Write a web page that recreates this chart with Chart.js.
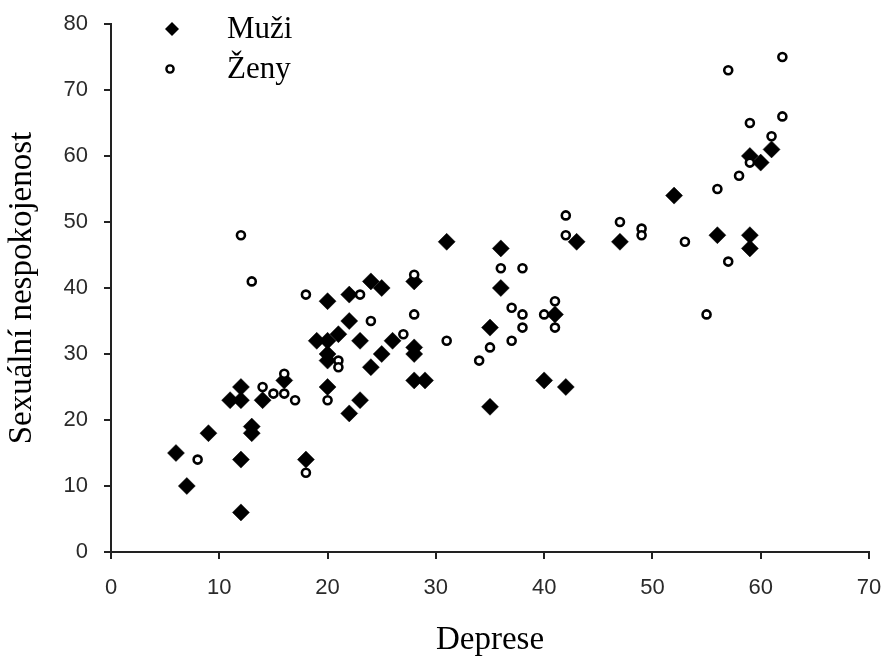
<!DOCTYPE html>
<html>
<head>
<meta charset="utf-8">
<script src="https://cdn.jsdelivr.net/npm/chart.js@4/dist/chart.umd.min.js"></script>
<style>
  html, body { margin: 0; padding: 0; background: #ffffff; }
  #wrap { width: 887px; height: 663px; position: relative; }
</style>
</head>
<body>
<div id="wrap"><canvas id="c" width="887" height="663"></canvas></div>
<script>
// ---- Data (Deprese, Sexuální nespokojenost) ----
const seriesNames = ['Muži', 'Ženy'];
const axisTitles = { x: 'Deprese', y: 'Sexuální nespokojenost' };
const xTicks = [0, 10, 20, 30, 40, 50, 60, 70];
const yTicks = [0, 10, 20, 30, 40, 50, 60, 70, 80];

const muziX = [6, 7, 9, 11, 12, 12, 12, 12, 13, 13, 14, 16, 18, 19, 20, 20, 20, 20, 20, 21, 22, 22, 22, 23, 23, 24, 24, 25, 25, 26, 28, 28, 28, 28, 29, 31, 35, 35, 36, 36, 40, 41, 42, 43, 47, 52, 56, 59, 59, 59, 60, 61];
const muziY = [15, 10, 18, 23, 25, 23, 14, 6, 19, 18, 23, 26, 14, 32, 38, 32, 30, 29, 25, 33, 39, 35, 21, 32, 23, 41, 28, 40, 30, 32, 41, 31, 30, 26, 26, 47, 34, 22, 46, 40, 26, 36, 25, 47, 47, 54, 48, 48, 46, 60, 59, 61];

const zenyX = [8, 12, 13, 14, 15, 16, 16, 17, 18, 18, 20, 21, 21, 23, 24, 27, 28, 28, 31, 34, 35, 36, 37, 37, 38, 38, 38, 40, 41, 41, 42, 42, 47, 49, 49, 53, 55, 56, 57, 57, 58, 59, 59, 61, 62, 62];
const zenyY = [14, 48, 41, 25, 24, 27, 24, 23, 39, 12, 23, 29, 28, 39, 35, 33, 42, 36, 32, 29, 31, 43, 37, 32, 43, 36, 34, 36, 38, 34, 51, 48, 50, 49, 48, 47, 36, 55, 73, 44, 57, 65, 59, 63, 75, 66];

const toPoints = (xs, ys) => xs.map((x, i) => ({ x: x, y: ys[i] }));

const legendPlugin = {
  id: 'customLegend',
  afterDraw(chart) {
    const ctx = chart.ctx;
    ctx.save();
    // diamond (Muži)
    ctx.fillStyle = '#000';
    ctx.beginPath();
    const dx = 172, dy = 29, r = 7;
    ctx.moveTo(dx, dy - r); ctx.lineTo(dx + r, dy); ctx.lineTo(dx, dy + r); ctx.lineTo(dx - r, dy); ctx.closePath();
    ctx.fill();
    // circle (Ženy)
    ctx.beginPath();
    ctx.arc(170, 69, 3.6, 0, Math.PI * 2);
    ctx.fillStyle = '#fff';
    ctx.fill();
    ctx.lineWidth = 2.4;
    ctx.strokeStyle = '#000';
    ctx.stroke();
    // texts
    ctx.fillStyle = '#000';
    ctx.font = '31px "Liberation Serif", "Times New Roman", serif';
    ctx.textBaseline = 'middle';
    ctx.textAlign = 'left';
    ctx.fillText(seriesNames[0], 227, 30);
    ctx.fillText(seriesNames[1], 227, 70);
    ctx.restore();
  }
};

new Chart(document.getElementById('c'), {
  type: 'scatter',
  data: {
    datasets: [
      {
        label: seriesNames[0],
        data: toPoints(muziX, muziY),
        pointStyle: 'rectRot',
        pointRadius: 8.5,
        pointHoverRadius: 8.5,
        backgroundColor: '#000',
        borderColor: '#000',
        borderWidth: 0.5,
        order: 2
      },
      {
        label: seriesNames[1],
        data: toPoints(zenyX, zenyY),
        pointStyle: 'circle',
        pointRadius: 4,
        pointHoverRadius: 4,
        backgroundColor: '#fff',
        borderColor: '#000',
        borderWidth: 2.6,
        order: 1
      }
    ]
  },
  options: {
    responsive: false,
    animation: false,
    events: [],
    layout: { padding: { top: 24, right: 18, left: 0, bottom: 0 } },
    plugins: {
      legend: { display: false },
      tooltip: { enabled: false }
    },
    scales: {
      x: {
        type: 'linear',
        min: 0, max: 70,
        afterBuildTicks: (s) => { s.ticks = xTicks.map(v => ({ value: v })); },
        afterFit: (s) => { s.height = 111; s.paddingRight = 0; s.paddingLeft = 0; },
        grid: { drawOnChartArea: false, drawTicks: true, tickLength: 7, color: '#222', lineWidth: 2 },
        border: { color: '#222', width: 2 },
        ticks: {
          color: '#2a2a2a',
          padding: 16,
          maxRotation: 0,
          font: { family: '"Liberation Sans", Arial, sans-serif', size: 22 }
        },
        title: {
          display: true,
          text: axisTitles.x,
          color: '#000',
          font: { family: '"Liberation Serif", "Times New Roman", serif', size: 33 },
          padding: { top: 0, bottom: 3 }
        }
      },
      y: {
        type: 'linear',
        min: 0, max: 80,
        afterBuildTicks: (s) => { s.ticks = yTicks.map(v => ({ value: v })); },
        afterFit: (s) => { s.width = 111; s.paddingTop = 0; s.paddingBottom = 0; },
        grid: { drawOnChartArea: false, drawTicks: true, tickLength: 7, color: '#222', lineWidth: 2 },
        border: { color: '#222', width: 2 },
        ticks: {
          color: '#2a2a2a',
          padding: 16,
          font: { family: '"Liberation Sans", Arial, sans-serif', size: 22 }
        },
        title: {
          display: true,
          text: axisTitles.y,
          color: '#000',
          font: { family: '"Liberation Serif", "Times New Roman", serif', size: 33 },
          padding: { top: 3, bottom: 0 }
        }
      }
    }
  },
  plugins: [legendPlugin]
});
</script>
</body>
</html>
